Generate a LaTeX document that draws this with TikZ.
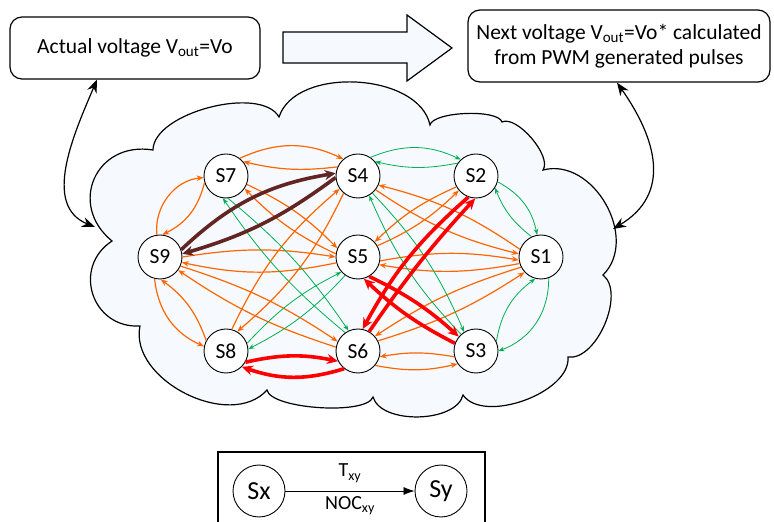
\documentclass[tikz,border=0pt]{standalone}
\usepackage{fontspec}
\setmainfont{Carlito}
\usetikzlibrary{arrows.meta}
\definecolor{arcorange}{RGB}{255,102,0}
\definecolor{arcgreen}{RGB}{0,176,80}
\definecolor{arcred}{RGB}{255,0,0}
\definecolor{arcbrown}{RGB}{99,37,35}
\definecolor{lightfill}{RGB}{246,250,254}
\begin{document}
\begin{tikzpicture}[x=1pt,y=1pt,>=stealth,
  state/.style={circle,draw,fill=white,minimum size=44pt,inner sep=0pt,line width=0.9pt,font=\fontsize{21.5}{24}\selectfont},
  legstate/.style={circle,draw,fill=white,minimum size=52pt,inner sep=0pt,line width=0.9pt,font=\fontsize{26}{28}\selectfont},
  infobox/.style={draw,fill=white,rounded corners=12pt,line width=1.2pt,align=center,font=\fontsize{21.5}{25.5}\selectfont},
  orangearc/.style={draw=arcorange,line width=1.2pt,-{Stealth[length=7pt,width=5.5pt]}},
  greenarc/.style={draw=arcgreen,line width=0.8pt,-{Stealth[length=6pt,width=4.5pt]}},
  redarc/.style={draw=arcred,line width=3.6pt,-{Stealth[length=11pt,width=10pt]}},
  brownarc/.style={draw=arcbrown,line width=3.6pt,-{Stealth[length=11pt,width=10pt]}},
  ctrlarrow/.style={line width=1.2pt,{Stealth[length=13pt,width=10pt]}-{Stealth[length=13pt,width=10pt]}}]

\useasboundingbox (0,0) rectangle (774,522);

\node[infobox,minimum width=250pt,minimum height=62pt] (actual) at (135,474) {Actual voltage V\textsubscript{out}=Vo};

\node[infobox,minimum width=302pt,minimum height=72pt] (next) at (619,476) {Next voltage V\textsubscript{out}=Vo* calculated\\from PWM generated pulses};

\draw[line width=1.2pt,fill=lightfill] (283,490)--(407,490)--(407,507)--(452,474)--(407,441)--(407,459)--(283,459)--cycle;

\draw[line width=1.2pt,fill=lightfill] (112,281)
  to[bend left=75,looseness=1.48] (153,372)
  to[bend left=75,looseness=0.73] (279,405)
  to[bend left=75,looseness=0.91] (430,397)
  to[bend left=75,looseness=0.49] (502,400)
  to[bend left=75,looseness=0.67] (543,352)
  to[bend left=75,looseness=1.1] (603,247)
  to[bend left=75,looseness=0.83] (568,165)
  to[bend left=75,looseness=0.82] (463,127)
  to[bend left=75,looseness=0.82] (373,125)
  to[bend left=75,looseness=0.47] (267,132)
  to[bend left=75,looseness=0.99] (140,196)
  to[bend left=75,looseness=1.38] (112,281)--cycle;

\coordinate (cloudW) at (95,295);
\coordinate (cloudE) at (613,293);
\draw[ctrlarrow] ([xshift=-38pt]actual.south) to[out=247,in=158] (cloudW);
\draw[ctrlarrow] ([xshift=-2pt]next.south) to[out=305,in=31,looseness=1.2] (cloudE);

\node[state] (S7) at (226,346) {S7};
\node[state] (S4) at (358,346) {S4};
\node[state] (S2) at (476,346) {S2};
\node[state] (S9) at (160,265) {S9};
\node[state] (S5) at (358,265) {S5};
\node[state] (S1) at (541,265) {S1};
\node[state] (S8) at (226,171) {S8};
\node[state] (S6) at (358,171) {S6};
\node[state] (S3) at (476,171) {S3};

\draw[orangearc] (S7.52) to[bend left=25] (S4.131);
\draw[orangearc] (S4.156) to[bend left=10] (S7.40);
\draw[orangearc] (S9.98) to[bend left=45] (S7.184);
\draw[orangearc] (S7.197) to[bend left=25] (S9.84);
\draw[orangearc] (S9.256) to[bend right=30] (S8.168);
\draw[orangearc] (S8.152) to[bend right=17] (S9.272);
\draw[orangearc] (S9.0) to[bend left=9] (S5.180);
\draw[orangearc] (S5.195) to[bend left=12] (S9.-14);
\draw[orangearc] (S7.-22) to[bend left=10] (S5.157);
\draw[orangearc] (S5.172) to[bend left=10] (S7.-34);
\draw[orangearc] (S8.75) to[bend left=12] (S4.215);
\draw[orangearc] (S4.230) to[bend left=12] (S8.60);
\draw[orangearc] (S9.-24) to[bend left=8] (S6.155);
\draw[orangearc] (S6.170) to[bend left=8] (S9.-36);
\draw[orangearc] (S1.160) to[bend right=10] (S4.336);
\draw[orangearc] (S4.322) to[bend right=10] (S1.172);
\draw[orangearc] (S2.209) to[bend right=10] (S5.42);
\draw[orangearc] (S5.30) to[bend right=10] (S2.220);
\draw[orangearc] (S5.-10) to[bend left=10] (S1.188);
\draw[orangearc] (S1.197) to[bend left=10] (S5.-20);
\draw[orangearc] (S1.207) to[bend right=8] (S6.41);
\draw[orangearc] (S6.27) to[bend right=8] (S1.223);
\draw[orangearc] (S3.195) to[bend right=10] (S6.-15);
\draw[orangearc] (S6.-40) to[bend right=12] (S3.215);

\draw[greenarc] (S4.56) to[bend left=24] (S2.133);
\draw[greenarc] (S2.145) to[bend left=12] (S4.40);
\draw[greenarc] (S2.-15) to[bend left=25] (S1.100);
\draw[greenarc] (S1.115) to[bend left=15] (S2.-32);
\draw[greenarc] (S1.-70) to[bend left=35] (S3.0);
\draw[greenarc] (S3.25) to[bend left=22] (S1.-105);
\draw[greenarc] (S4.-50) to[bend left=10] (S3.122);
\draw[greenarc] (S3.132) to[bend left=10] (S4.-60);
\draw[greenarc] (S7.275) to[bend left=8] (S6.115);
\draw[greenarc] (S6.125) to[bend left=8] (S7.262);
\draw[greenarc] (S8.20) to[bend left=10] (S5.222);
\draw[greenarc] (S5.235) to[bend left=10] (S8.5);

\draw[redarc] (S8.-30) to[bend left=12] (S6.207);
\draw[redarc] (S6.232) to[bend left=18] (S8.-45);
\draw[redarc] (S5.-60) to[bend left=8] (S3.140);
\draw[redarc] (S3.160) to[bend left=8] (S5.-75);
\draw[redarc] (S6.60) to[bend left=4] (S2.268);
\draw[redarc] (S2.250) to[bend right=10] (S6.78);

\draw[brownarc] (S9.19) to[bend left=17] (S4.173);
\draw[brownarc] (S4.184) to[bend left=10] (S9.8);

\draw[line width=1.2pt] (218,70) rectangle (485,-10);
\node[legstate] (Sx) at (259,31) {Sx};
\node[legstate] (Sy) at (441,31) {Sy};
\draw[line width=0.8pt,-{Latex[length=11pt,width=8pt]}] (Sx)--node[above=5pt,font=\fontsize{20}{22}\selectfont]{T\textsubscript{xy}} node[below=2pt,font=\fontsize{20}{22}\selectfont]{NOC\textsubscript{xy}} (Sy);

\end{tikzpicture}
\end{document}
